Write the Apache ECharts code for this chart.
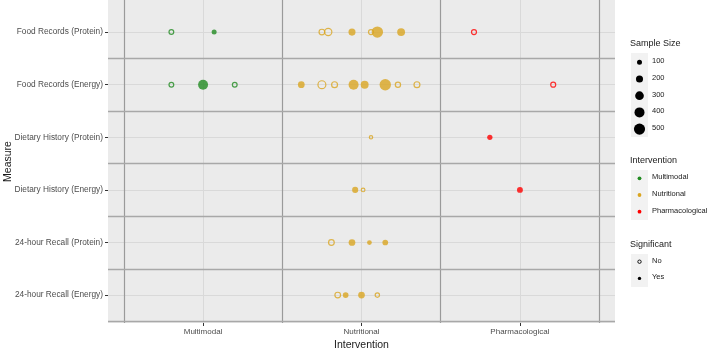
<!DOCTYPE html>
<html>
<head>
<meta charset="utf-8">
<script src="https://cdn.jsdelivr.net/npm/echarts@6/dist/echarts.min.js"></script>
<style>
html, body { margin: 0; padding: 0; background: #fff; }
#main { width: 709px; height: 351px; }
</style>
</head>
<body>
<div id="main"></div>
<script>
// y categories, bottom to top (row 1 = 24-hour Recall (Energy))
var measures = ['24-hour Recall (Energy)', '24-hour Recall (Protein)', 'Dietary History (Energy)',
    'Dietary History (Protein)', 'Food Records (Energy)', 'Food Records (Protein)'];
var interventions = ['Multimodal', 'Nutritional', 'Pharmacological'];
var groupColors = ['#228B22', '#DAA520', '#FF0000'];
var sigLabels = ['No', 'Yes'];
var legendSizes = [100, 200, 300, 400, 500];

// one entry per study (jittered x position)
var ptRow   = [6, 6, 6, 6, 6, 6, 6, 6, 6,
               5, 5, 5, 5, 5, 5, 5, 5, 5, 5, 5, 5,
               4, 4,
               3, 3, 3,
               2, 2, 2, 2,
               1, 1, 1, 1];
var ptX     = [0.80, 1.07, 1.75, 1.79, 1.94, 2.06, 2.10, 2.25, 2.71,
               0.80, 1.00, 1.20, 1.62, 1.75, 1.83, 1.95, 2.02, 2.15, 2.23, 2.35, 3.21,
               2.06, 2.81,
               1.96, 2.01, 3.00,
               1.81, 1.94, 2.05, 2.15,
               1.85, 1.90, 2.00, 2.10];
var ptN     = [90, 100, 130, 210, 200, 100, 520, 250, 100,
               90, 400, 90, 180, 250, 140, 400, 250, 520, 110, 140, 100,
               45, 110,
               150, 55, 140,
               130, 180, 90, 130,
               130, 130, 180, 75];
var ptGroup = [0, 0, 1, 1, 1, 1, 1, 1, 2,
               0, 0, 0, 1, 1, 1, 1, 1, 1, 1, 1, 2,
               1, 2,
               1, 1, 2,
               1, 1, 1, 1,
               1, 1, 1, 1];
var ptSig   = [0, 1, 0, 0, 1, 0, 1, 1, 0,
               0, 1, 0, 1, 0, 0, 1, 1, 1, 0, 0, 0,
               0, 1,
               1, 0, 1,
               0, 1, 1, 1,
               0, 1, 1, 0];

var FONT = '"Liberation Sans", Arial, sans-serif';
function sizeOf(n) { return 0.5 * Math.sqrt(n); }

var myChart = echarts.init(document.getElementById('main'));

var points = [];
for (var i = 0; i < ptX.length; i++) {
    var col = groupColors[ptGroup[i]];
    points.push({
        value: [ptX[i], ptRow[i], ptN[i]],
        itemStyle: ptSig[i] ? { color: col, borderWidth: 0 }
                            : { color: 'rgba(0,0,0,0)', borderColor: col, borderWidth: 1.2 }
    });
}

// grid lines: light at category centres, dark at the boundaries between them
var lineData = [];
for (var k = 1; k <= interventions.length; k++) {
    lineData.push({ xAxis: k, lineStyle: { type: 'solid', color: '#d9d9d9', width: 1 } });
}
for (var k = 1; k <= measures.length; k++) {
    lineData.push({ yAxis: k, lineStyle: { type: 'solid', color: '#d9d9d9', width: 1 } });
}
for (var k = 0; k <= interventions.length; k++) {
    lineData.push({ xAxis: k + 0.5, lineStyle: { type: 'solid', color: '#9a9a9a', width: 1.2 } });
}
for (var k = 0; k < measures.length; k++) {
    lineData.push({ yAxis: k + 0.5, lineStyle: { type: 'solid', color: '#a8a8a8', width: 1.4 } });
}

// legend built from graphic elements
var graphics = [];
function legTitle(txt, y) {
    graphics.push({ type: 'text', left: 630, top: y - 6,
        style: { text: txt, font: '9px ' + FONT, fill: '#1a1a1a' } });
}
function legBox(y0, y1) {
    graphics.push({ type: 'rect', shape: { x: 631, y: y0, width: 17, height: y1 - y0 },
        style: { fill: '#f2f2f2' }, z: 0 });
}
function legLabel(txt, y) {
    graphics.push({ type: 'text', left: 652, top: y - 5,
        style: { text: txt, font: '7.5px ' + FONT, fill: '#1a1a1a' } });
}
legTitle('Sample Size', 45);
legBox(53, 137);
for (var s = 0; s < legendSizes.length; s++) {
    var yy = 62.3 + s * 16.7;
    graphics.push({ type: 'circle', shape: { cx: 639.5, cy: yy, r: sizeOf(legendSizes[s]) / 2 },
        style: { fill: '#000' } });
    legLabel(String(legendSizes[s]), yy);
}
legTitle('Intervention', 162);
legBox(170, 220);
for (var g = 0; g < interventions.length; g++) {
    var yy = 178.3 + g * 16.7;
    graphics.push({ type: 'circle', shape: { cx: 639.5, cy: yy, r: 1.9 },
        style: { fill: groupColors[g] } });
    legLabel(interventions[g], yy);
}
legTitle('Significant', 246);
legBox(254, 287);
for (var s = 0; s < sigLabels.length; s++) {
    var yy = 261.7 + s * 16.7;
    graphics.push({ type: 'circle', shape: { cx: 639.5, cy: yy, r: 1.7 },
        style: s ? { fill: '#000' } : { fill: 'none', stroke: '#000', lineWidth: 0.9 } });
    legLabel(sigLabels[s], yy);
}

var option = {
    animation: false,
    backgroundColor: '#fff',
    textStyle: { fontFamily: FONT },
    grid: { left: 108, right: 94, top: 0, bottom: 28, show: true,
        backgroundColor: '#ebebeb', borderWidth: 0,
        containLabel: false, outerBoundsMode: 'none' },
    xAxis: {
        type: 'value', min: 0.4, max: 3.6,
        name: 'Intervention', nameLocation: 'middle', nameGap: 17, nameMoveOverlap: false,
        nameTextStyle: { fontSize: 10.5, color: '#1a1a1a', fontFamily: FONT },
        axisLine: { show: false },
        splitLine: { show: false },
        axisTick: { show: true, length: 3, lineStyle: { color: '#333' }, customValues: [1, 2, 3] },
        axisLabel: { customValues: [1, 2, 3], margin: 5, fontSize: 8, color: '#4d4d4d',
            formatter: function (v) { return interventions[Math.round(v) - 1] || ''; } }
    },
    yAxis: {
        type: 'value', min: 0.47, max: 6.61,
        name: 'Measure', nameLocation: 'middle', nameGap: 94, nameRotate: 90, nameMoveOverlap: false,
        nameTextStyle: { fontSize: 10.5, color: '#1a1a1a', fontFamily: FONT },
        axisLine: { show: false },
        splitLine: { show: false },
        axisTick: { show: true, length: 3, lineStyle: { color: '#333' }, customValues: [1, 2, 3, 4, 5, 6] },
        axisLabel: { customValues: [1, 2, 3, 4, 5, 6], margin: 5, fontSize: 8.3, color: '#4d4d4d',
            formatter: function (v) { return measures[Math.round(v) - 1] || ''; } }
    },
    series: [{
        type: 'scatter',
        data: [],
        silent: true,
        markLine: { silent: true, symbol: 'none', label: { show: false }, data: lineData }
    }, {
        type: 'scatter',
        symbol: 'circle',
        symbolSize: function (v) { return sizeOf(v[2]); },
        data: points,
        z: 5
    }],
    graphic: graphics
};
myChart.setOption(option);
</script>
</body>
</html>
